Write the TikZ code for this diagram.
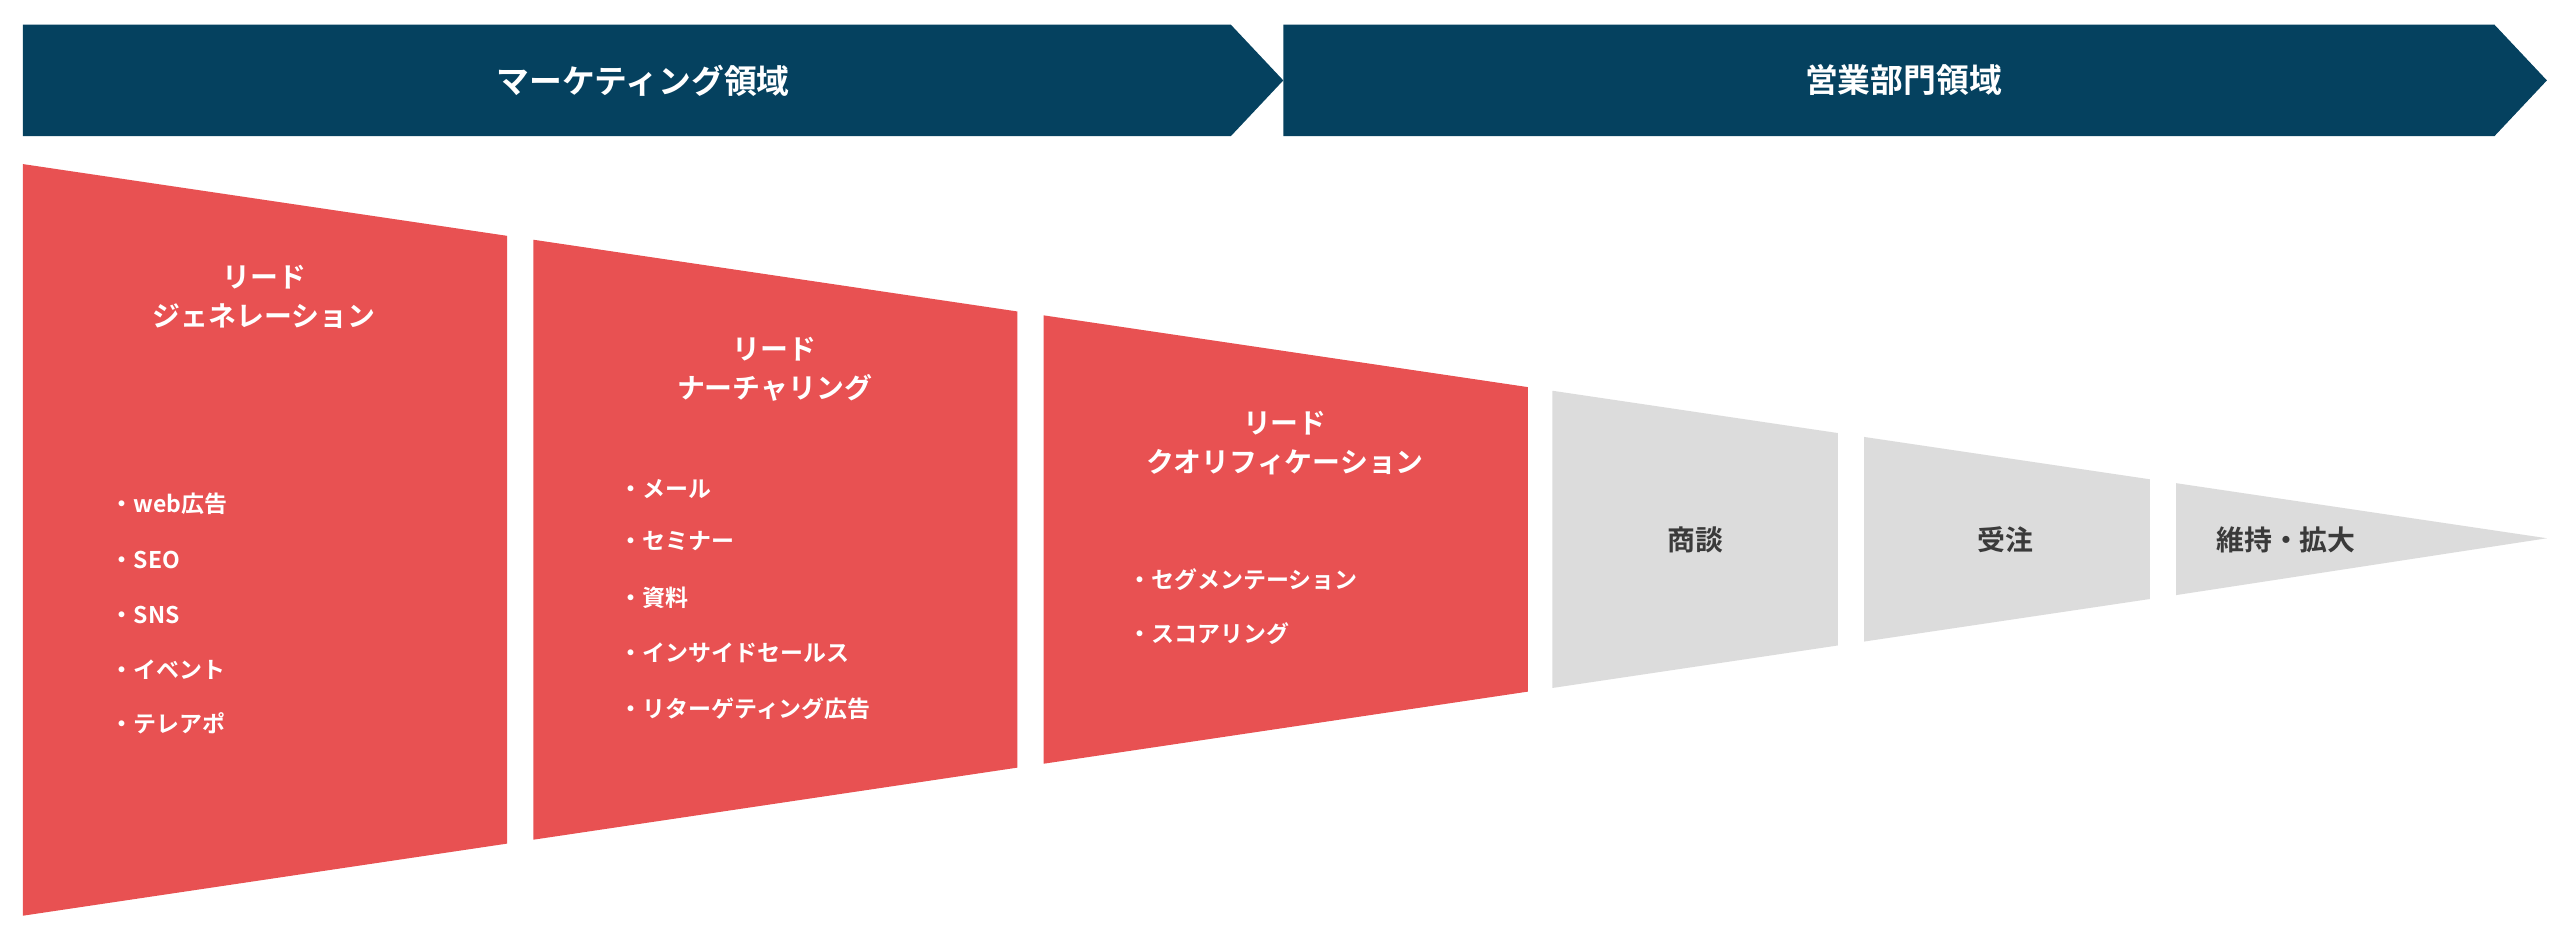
\documentclass[tikz,border=0pt]{standalone}
\usepackage{fontspec}
\setmainfont{Noto Sans CJK JP}[BoldFont={* Bold}]
\begin{document}
\begin{tikzpicture}[x=1pt,y=-1pt,
  banner/.style={fill=bannerc},
  red/.style={fill=redc},
  grey/.style={fill=greyc},
  ban/.style={text=white,font=\fontsize{20}{24}\selectfont\bfseries},
  ttl/.style={text=white,font=\fontsize{17}{24}\selectfont\bfseries,align=center},
  bul/.style={text=white,font=\fontsize{14}{16}\selectfont\bfseries,anchor=west},
  gt/.style={text=greytext,font=\fontsize{17}{20}\selectfont\bfseries}]
\definecolor{bannerc}{HTML}{05415F}
\definecolor{redc}{HTML}{E85152}
\definecolor{greyc}{HTML}{DCDCDC}
\definecolor{greytext}{HTML}{3A3A3A}
\useasboundingbox[fill=white] (0,0) rectangle (1560,571.6);
\pgfmathdeclarefunction{yt}{1}{\pgfmathparse{100+0.1482*(#1-14)}}
\pgfmathdeclarefunction{yb}{1}{\pgfmathparse{558-0.1489*(#1-14)}}
\fill[banner] (14,15)--(750,15)--(782,49)--(750,83)--(14,83)--cycle;
\fill[banner] (782,15)--(1520,15)--(1552,49)--(1520,83)--(782,83)--cycle;
\node[ban] (b1) at (392,49) {マーケティング領域};
\node[ban] (b2) at (1160,49) {営業部門領域};
\foreach \a/\b/\s in {14/309/red,325/620/red,636/931/red,946/1120/grey,1136/1310/grey}{
  \pgfmathsetmacro\ta{yt(\a)}\pgfmathsetmacro\tb{yt(\b)}
  \pgfmathsetmacro\ba{yb(\a)}\pgfmathsetmacro\bb{yb(\b)}
  \fill[\s] (\a,\ta)--(\b,\tb)--(\b,\bb)--(\a,\ba)--cycle;}
\pgfmathsetmacro\ta{yt(1326)}\pgfmathsetmacro\ba{yb(1326)}
\fill[grey] (1326,\ta)--(1552,328)--(1326,\ba)--cycle;
\node[ttl] (t1) at (161,181) {リード\\ジェネレーション};
\node[ttl] (t2) at (472,225) {リード\\ナーチャリング};
\node[ttl] (t3) at (783,270) {リード\\クオリフィケーション};
\foreach \y/\t [count=\i] in {307/web広告,341/SEO,375/SNS,408/イベント / 展示会,441/テレアポ}
  \node[bul] (p\i) at (64,\y) {・\t};
\foreach \y/\t [count=\i] in {298/メール,330/セミナー,364/資料,398/インサイドセールス,432/リターゲティング広告}
  \node[bul] (q\i) at (374,\y) {・\t};
\foreach \y/\t [count=\i] in {353/セグメンテーション,386/スコアリング}
  \node[bul] (r\i) at (684,\y) {・\t};
\node[gt] (g1) at (1033,329) {商談};
\node[gt] (g2) at (1222,329) {受注};
\node[gt] (g3) at (1393,329) {維持・拡大};
\end{tikzpicture}
\end{document}
